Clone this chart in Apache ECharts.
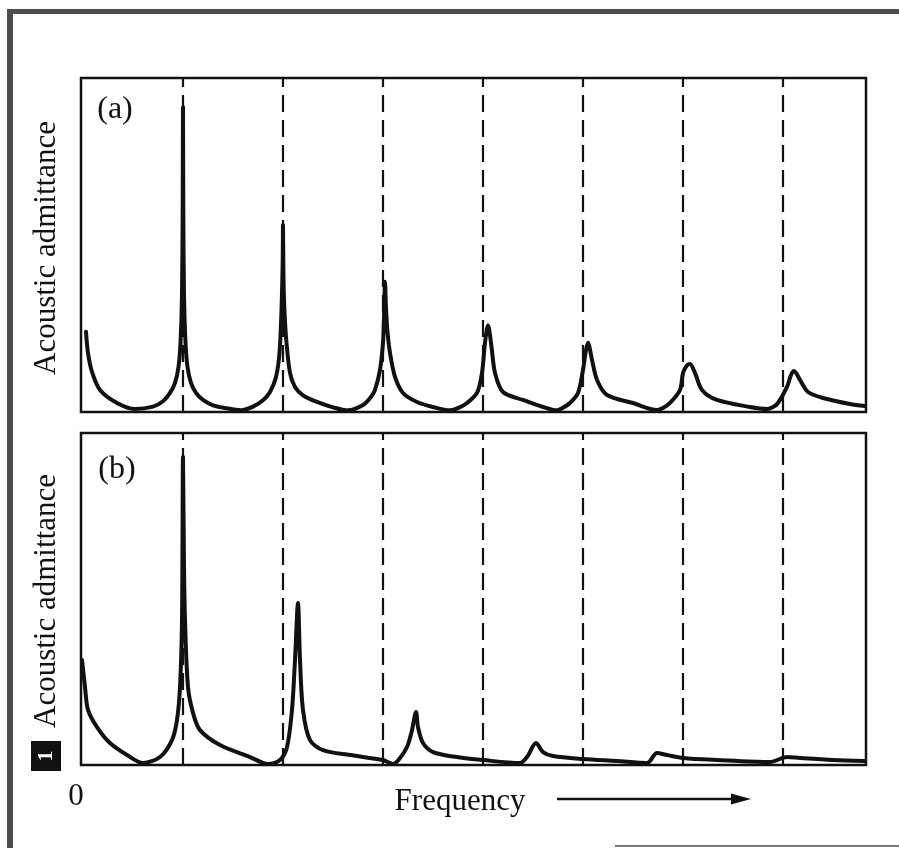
<!DOCTYPE html>
<html>
<head>
<meta charset="utf-8">
<script src="https://cdn.jsdelivr.net/npm/echarts@6.0.0/dist/echarts.min.js"></script>
<style>
  html, body { margin: 0; padding: 0; background: #fff; }
  #chart { width: 899px; height: 848px; }
</style>
</head>
<body>
<div id="chart"></div>
<script>
// frequency in units of the reference spacing, admittance 0..100
var freqRange = [-0.02, 7.83]
var harmonics = [1, 2, 3, 4, 5, 6, 7]
var panelLabels = ['(a)', '(b)']
var yTitle = 'Acoustic admittance'
var xTitle = 'Frequency'

// (a) closed cylinder: peaks sit on the harmonics
var admittanceA = [
  [0.03, 24.0], [0.05, 17.7], [0.09, 12.0], [0.17, 6.6], [0.34, 2.7], [0.52, 0.9],
  [0.70, 1.6], [0.80, 3.2], [0.87, 5.7], [0.92, 8.7], [0.955, 13.5], [0.975, 20.7],
  [0.99, 35], [0.997, 62], [1.00, 91.3], [1.003, 62], [1.01, 35], [1.025, 20.7],
  [1.045, 13.5], [1.08, 8.7], [1.13, 5.7], [1.20, 3.6], [1.30, 2.0], [1.42, 1.2],
  [1.58, 0.5], [1.70, 1.6], [1.80, 3.5], [1.87, 6.0], [1.93, 10.5], [1.965, 17.7],
  [1.985, 30.5], [1.997, 45], [2.00, 56], [2.005, 40], [2.015, 30], [2.035, 20.7],
  [2.07, 11.7], [2.12, 7.5], [2.20, 5.0], [2.34, 3.0], [2.50, 1.4], [2.65, 0.5],
  [2.80, 2.1], [2.88, 4.5], [2.92, 6.6], [2.97, 12.6], [3.00, 20.7], [3.01, 28],
  [3.02, 39], [3.03, 31], [3.045, 24], [3.07, 17.7], [3.12, 10.5], [3.20, 5.7],
  [3.34, 3.0], [3.50, 1.5], [3.67, 0.5], [3.76, 1.3], [3.84, 2.7], [3.94, 5.7],
  [3.99, 11.7], [4.02, 20.7], [4.05, 26], [4.085, 19.5], [4.12, 11.7], [4.20, 6.0],
  [4.40, 3.6], [4.60, 1.5], [4.74, 0.5], [4.80, 1.3], [4.87, 2.7], [4.95, 5.7],
  [5.00, 12.6], [5.03, 18.5], [5.05, 20.7], [5.09, 15.6], [5.14, 9.6], [5.24, 5.1],
  [5.50, 2.7], [5.74, 0.6], [5.80, 1.2], [5.87, 2.7], [5.97, 6.6], [6.00, 11.7],
  [6.04, 14], [6.07, 14.4], [6.12, 11.7], [6.19, 6.6], [6.34, 3.6], [6.67, 1.5],
  [6.84, 0.9], [6.90, 1.5], [6.95, 2.7], [7.04, 7.5], [7.08, 11.1], [7.11, 12.3],
  [7.17, 9.6], [7.25, 6.0], [7.40, 4.2], [7.67, 2.4], [7.82, 1.8]
]

// (b) stretched series: peaks drift right and fade
var admittanceB = [
  [-0.01, 31.6], [0.02, 23.5], [0.05, 16.6], [0.14, 11.4], [0.27, 6.6], [0.44, 3.0],
  [0.60, 0.6], [0.77, 2.4], [0.89, 7.5], [0.94, 13.6], [0.97, 23.5], [0.99, 43.7],
  [1.00, 92.8], [1.01, 60], [1.02, 43.7], [1.05, 23.5], [1.10, 15.7], [1.17, 10.5],
  [1.37, 6.0], [1.67, 2.4], [1.85, 0.3], [1.97, 1.5], [2.04, 5.4], [2.09, 16.6],
  [2.12, 31.6], [2.15, 48.8], [2.17, 31.6], [2.20, 16.6], [2.27, 7.5], [2.40, 4.5],
  [2.67, 3.0], [3.00, 1.5], [3.10, 0.3], [3.17, 2.1], [3.24, 5.4], [3.29, 10.5],
  [3.33, 16.0], [3.35, 11.4], [3.40, 6.6], [3.50, 3.9], [3.74, 2.4], [4.00, 1.5],
  [4.37, 0.6], [4.44, 2.4], [4.53, 6.6], [4.60, 3.9], [4.70, 2.7], [5.00, 1.8],
  [5.34, 1.2], [5.64, 0.6], [5.74, 3.6], [5.84, 3.0], [6.00, 2.1], [6.34, 1.5],
  [6.87, 0.9], [7.04, 2.4], [7.17, 2.1], [7.50, 1.5], [7.82, 1.2]
]

var serif = '"Liberation Serif", "Times New Roman", serif'
var ink = '#111'

function axisPair (idx) {
  return {
    x: { type: 'value', gridIndex: idx, min: freqRange[0], max: freqRange[1],
      axisLine: { show: false }, axisTick: { show: false }, axisLabel: { show: false }, splitLine: { show: false } },
    y: { type: 'value', gridIndex: idx, min: 0, max: 100,
      axisLine: { show: false }, axisTick: { show: false }, axisLabel: { show: false }, splitLine: { show: false } }
  }
}

function curve (idx, data) {
  return {
    type: 'line',
    xAxisIndex: idx,
    yAxisIndex: idx,
    data: data,
    smooth: 0.3,
    showSymbol: false,
    silent: true,
    lineStyle: { color: ink, width: 4, join: 'round', cap: 'round' },
    markLine: {
      silent: true,
      symbol: ['none', 'none'],
      label: { show: false },
      lineStyle: { color: ink, width: 2.2, type: [17, 8] },
      data: harmonics.map(function (h) { return { xAxis: h } })
    }
  }
}

function label (txt, x, y, size, rot) {
  return {
    type: 'text', x: x, y: y, rotation: rot || 0,
    style: { text: txt, font: size + 'px ' + serif, fill: ink, align: 'center', verticalAlign: 'middle' }
  }
}

var a = axisPair(0)
var b = axisPair(1)
var gridStyle = { show: true, borderColor: ink, borderWidth: 2.5, backgroundColor: 'transparent' }

var chart = echarts.init(document.getElementById('chart'), null, { renderer: 'canvas' })
chart.setOption({
  animation: false,
  backgroundColor: '#fff',
  grid: [
    Object.assign({ left: 81, top: 78, width: 785, height: 334 }, gridStyle),
    Object.assign({ left: 81, top: 433, width: 785, height: 332 }, gridStyle)
  ],
  xAxis: [a.x, b.x],
  yAxis: [a.y, b.y],
  series: [curve(0, admittanceA), curve(1, admittanceB)],
  graphic: [
    // page frame
    { type: 'rect', shape: { x: 7, y: 9, width: 6, height: 839 }, style: { fill: '#4d4d4d' } },
    { type: 'rect', shape: { x: 7, y: 9, width: 892, height: 5 }, style: { fill: '#4d4d4d' } },
    { type: 'rect', shape: { x: 615, y: 845, width: 284, height: 2 }, style: { fill: '#777' } },
    label(panelLabels[0], 115, 110, 32),
    label(panelLabels[1], 117, 470, 32),
    label(yTitle, 47, 248, 31, Math.PI / 2),
    label(yTitle, 47, 601, 31, Math.PI / 2),
    // figure number box
    { type: 'rect', shape: { x: 31, y: 741, width: 30, height: 30 }, style: { fill: ink } },
    { type: 'text', x: 46, y: 756, rotation: Math.PI / 2, style: { text: '1', font: 'bold 22px ' + serif, fill: '#fff', align: 'center', verticalAlign: 'middle' } },
    label('0', 76, 797, 31),
    label(xTitle, 460, 802, 31),
    { type: 'line', shape: { x1: 557, y1: 799, x2: 735, y2: 799 }, style: { stroke: ink, lineWidth: 2.5 } },
    { type: 'polygon', shape: { points: [[731, 793.5], [751, 799], [731, 804.5]] }, style: { fill: ink } }
  ]
})
</script>
</body>
</html>
